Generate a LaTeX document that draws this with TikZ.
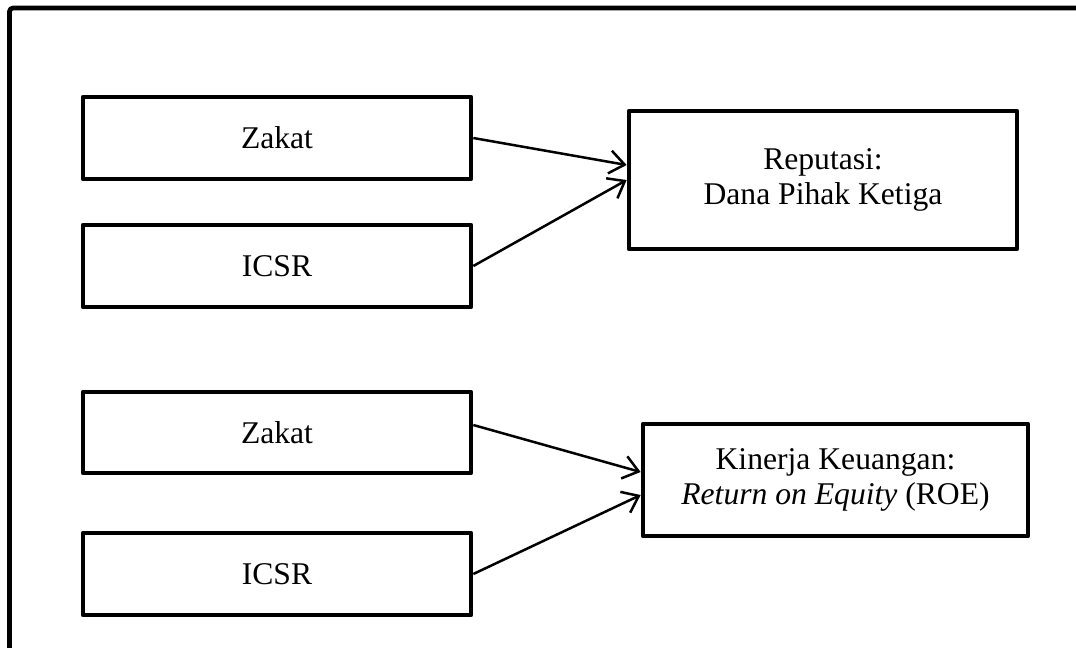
\documentclass[tikz,border=0pt]{standalone}
\usepackage{fontspec}
\setmainfont{Liberation Serif}
\usetikzlibrary{arrows.meta,positioning}

\begin{document}
\begin{tikzpicture}[
    x = 0.02cm, y = -0.02cm, % one unit is one pixel of the page
    > = {Straight Barb[length=0.3cm,width=0.46cm]}, % arrow head style
    line join = round,
    semithick % line style
    ]

    \tikzset{box/.style={
    draw = black,
    line width = 0.095cm,
    fill = white,
    align = center,
    font = \fontsize{18}{20}\selectfont,
    minimum width = 7.76cm,
    minimum height = 1.64cm
    }}
    \useasboundingbox (0,0) rectangle (1076,647);
    \clip (0,0) rectangle (1076,647);

    % outer frame, open to the right and bottom
    \draw[line width=0.095cm, rounded corners=2pt] (9.5,670) -- (9.5,8) -- (1100,8);

    \node[box] (zakat1) at (277,138) {Zakat};
    \node[box] (icsr1) at (277,266) {ICSR};
    \node[box, minimum height=2.76cm] (rep) at (823,180) {Reputasi:\\Dana Pihak Ketiga};

    \node[box, minimum height=1.62cm] (zakat2) at (277,432.5) {Zakat};
    \node[box] (icsr2) at (277,574) {ICSR};
    \node[box, minimum width=7.7cm, minimum height=2.24cm] (kin) at (835.5,480)
        {Kinerja Keuangan:\\\textit{Return on Equity} (ROE)};

    \path[->, line width=0.05cm] (zakat1.east) edge ([yshift=0.3cm]rep.west);
    \path[->, line width=0.05cm] (icsr1.east) edge (rep.west);
    \path[->, line width=0.05cm] ([yshift=0.15cm]zakat2.east) edge ([yshift=0.16cm]kin.west);
    \path[->, line width=0.05cm] (icsr2.east) edge ([yshift=-0.3cm]kin.west);
\end{tikzpicture}
\end{document}
